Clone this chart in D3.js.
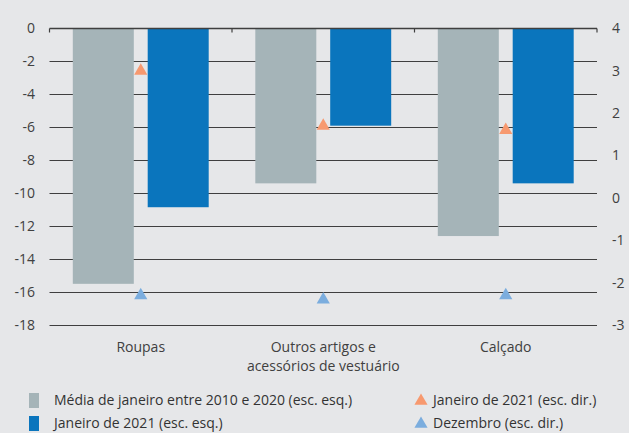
<!DOCTYPE html>
<html><head><meta charset="utf-8">
<script src="https://cdn.jsdelivr.net/npm/d3@7"></script>
<style>
html,body{margin:0;padding:0;background:#e6e7e9;}
svg{display:block;font-family:"Open Sans","Noto Sans",sans-serif;}
</style></head>
<body><svg id="c" width="629" height="433"></svg>
<script>
const categories = [["Roupas"], ["Outros artigos e", "acessórios de vestuário"], ["Calçado"]];
const avgJan = [-15.5, -9.4, -12.6];
const jan2021 = [-10.85, -5.9, -9.4];
const jan2021Right = [3.0, 1.7, 1.6];
const decRight = [-2.3, -2.4, -2.3];
const leftTicks = [0, -2, -4, -6, -8, -10, -12, -14, -16, -18];
const rightTicks = [4, 3, 2, 1, 0, -1, -2, -3];
const legendItems = [
  {label: "Média de janeiro entre 2010 e 2020 (esc. esq.)", type: "rect", color: "#a5b4b8"},
  {label: "Janeiro de 2021 (esc. esq.)", type: "rect", color: "#0a75bd"},
  {label: "Janeiro de 2021 (esc. dir.)", type: "tri", color: "#f7996f"},
  {label: "Dezembro (esc. dir.)", type: "tri", color: "#7badde"}
];

const svg = d3.select("#c");
const L = 49.5, R = 597, T = 28.5, B = 325;
const x = d3.scaleBand().domain(d3.range(3)).range([L, R]);
const yL = d3.scaleLinear().domain([0, -18]).range([T, B]);
const yR = d3.scaleLinear().domain([4, -3]).range([T, B]);
const bw = x.bandwidth();
const outer = 23.3, barW = 61;

// gridlines
svg.append("g").selectAll("line").data(leftTicks.filter(d => d !== 0)).join("line")
  .attr("x1", L).attr("x2", R)
  .attr("y1", d => Math.round(yL(d)) + 0.5).attr("y2", d => Math.round(yL(d)) + 0.5)
  .attr("stroke", "#3f3f3f").attr("stroke-width", 1.1);

// bars
const g = svg.append("g");
g.selectAll("rect.a").data(avgJan).join("rect")
  .attr("x", (d, i) => x(i) + outer).attr("width", barW)
  .attr("y", yL(0)).attr("height", d => yL(d) - yL(0)).attr("fill", "#a5b4b8");
g.selectAll("rect.b").data(jan2021).join("rect")
  .attr("x", (d, i) => x(i) + bw - outer - barW).attr("width", barW)
  .attr("y", yL(0)).attr("height", d => yL(d) - yL(0)).attr("fill", "#0a75bd");

// top axis line with ticks
svg.append("line").attr("x1", L).attr("x2", R).attr("y1", T).attr("y2", T)
  .attr("stroke", "#3f3f3f").attr("stroke-width", 1.3);
svg.append("g").selectAll("line").data([0, 1, 2, 3]).join("line")
  .attr("x1", i => i < 3 ? x(i) : R).attr("x2", i => i < 3 ? x(i) : R)
  .attr("y1", T).attr("y2", T + 4)
  .attr("stroke", "#3f3f3f").attr("stroke-width", 1.2);

// triangles
const tri = d3.symbol().type(d3.symbolTriangle).size(75);
svg.append("g").selectAll("path").data(jan2021Right).join("path")
  .attr("d", tri).attr("transform", (d, i) => `translate(${x(i) + bw / 2},${yR(d)})`)
  .attr("fill", "#f7996f");
svg.append("g").selectAll("path").data(decRight).join("path")
  .attr("d", tri).attr("transform", (d, i) => `translate(${x(i) + bw / 2},${yR(d)})`)
  .attr("fill", "#7badde");

// left labels
svg.append("g").selectAll("text").data(leftTicks).join("text")
  .attr("x", 35).attr("y", d => yL(d)).attr("dy", "0.35em")
  .attr("text-anchor", "end").attr("font-size", 14).attr("fill", "#404040")
  .text(d => d);
// right labels
svg.append("g").selectAll("text").data(rightTicks).join("text")
  .attr("x", 612).attr("y", d => yR(d)).attr("dy", "0.35em")
  .attr("text-anchor", "start").attr("font-size", 14).attr("fill", "#404040")
  .text(d => d);

// category labels
const cl = svg.append("g").selectAll("text").data(categories).join("text")
  .attr("x", (d, i) => x(i) + bw / 2).attr("y", 352)
  .attr("text-anchor", "middle").attr("font-size", 14).attr("fill", "#404040");
cl.selectAll("tspan").data(d => d).join("tspan")
  .attr("x", function() { return this.parentNode.getAttribute("x"); })
  .attr("dy", (d, j) => j === 0 ? 0 : 19).text(d => d);

// legend
const lg = svg.append("g");
const pos = [[29, 400], [29, 423], [414, 400], [414, 423]];
legendItems.forEach((it, i) => {
  const [px, py] = pos[i];
  if (it.type === "rect") {
    lg.append("rect").attr("x", px).attr("y", py - 7).attr("width", 10).attr("height", 15).attr("fill", it.color);
    lg.append("text").attr("x", px + 25).attr("y", py).attr("dy", "0.35em")
      .attr("font-size", 14).attr("fill", "#333").text(it.label);
  } else {
    lg.append("path").attr("d", tri).attr("transform", `translate(${px + 7},${py + 1})`).attr("fill", it.color);
    lg.append("text").attr("x", px + 19).attr("y", py).attr("dy", "0.35em")
      .attr("font-size", 14).attr("fill", "#333").text(it.label);
  }
});
</script></body></html>
